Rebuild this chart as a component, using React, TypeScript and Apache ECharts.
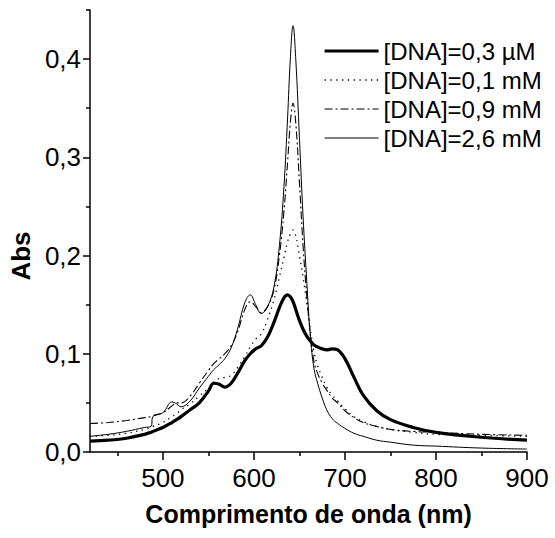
import React, { useEffect, useRef } from "react";
import * as echarts from "echarts";

const wavelengths = [420, 440, 460, 480, 487, 489, 500, 510, 515, 520, 530, 540, 550, 556, 562, 568, 575, 582, 590, 596, 602, 608, 615, 622, 628, 633, 637, 640, 643, 646, 650, 654, 658, 662, 666, 670, 675, 680, 686, 692, 700, 710, 720, 735, 750, 775, 800, 850, 900];

const dna03uM = [0.011, 0.012, 0.014, 0.018, 0.020, 0.021, 0.025, 0.030, 0.033, 0.036, 0.043, 0.050, 0.062, 0.070, 0.069, 0.066, 0.070, 0.080, 0.093, 0.100, 0.105, 0.108, 0.117, 0.132, 0.147, 0.157, 0.160, 0.158, 0.153, 0.145, 0.134, 0.125, 0.118, 0.113, 0.109, 0.107, 0.105, 0.104, 0.105, 0.104, 0.095, 0.076, 0.058, 0.042, 0.033, 0.025, 0.020, 0.015, 0.012];

const dna01mM = [0.016, 0.017, 0.019, 0.023, 0.025, 0.026, 0.030, 0.036, 0.039, 0.043, 0.049, 0.057, 0.065, 0.071, 0.075, 0.076, 0.078, 0.086, 0.097, 0.107, 0.115, 0.120, 0.135, 0.155, 0.178, 0.198, 0.214, 0.222, 0.226, 0.220, 0.200, 0.178, 0.152, 0.125, 0.102, 0.088, 0.076, 0.066, 0.058, 0.052, 0.044, 0.036, 0.031, 0.026, 0.023, 0.020, 0.018, 0.017, 0.016];

const dna09mM = [0.029, 0.030, 0.032, 0.035, 0.036, 0.037, 0.040, 0.047, 0.050, 0.050, 0.057, 0.070, 0.083, 0.090, 0.095, 0.100, 0.108, 0.122, 0.145, 0.153, 0.148, 0.142, 0.148, 0.165, 0.200, 0.245, 0.295, 0.335, 0.355, 0.335, 0.275, 0.210, 0.160, 0.120, 0.092, 0.080, 0.070, 0.063, 0.055, 0.050, 0.042, 0.035, 0.030, 0.026, 0.023, 0.021, 0.020, 0.018, 0.017];

const dna26mM = [0.016, 0.018, 0.021, 0.025, 0.026, 0.036, 0.040, 0.051, 0.049, 0.046, 0.052, 0.065, 0.077, 0.084, 0.089, 0.095, 0.106, 0.125, 0.152, 0.160, 0.150, 0.141, 0.148, 0.168, 0.210, 0.270, 0.340, 0.400, 0.434, 0.400, 0.320, 0.240, 0.175, 0.118, 0.085, 0.070, 0.055, 0.043, 0.034, 0.029, 0.024, 0.019, 0.016, 0.012, 0.010, 0.007, 0.006, 0.004, 0.003];

const seriesNames = ["[DNA]=0,3 \u00b5M", "[DNA]=0,1 mM", "[DNA]=0,9 mM", "[DNA]=2,6 mM"];

const xMajorTicks = [500, 600, 700, 800, 900];
const xMinorTicks = [450, 550, 650, 750, 850];
const yMajorTicks = [0, 0.1, 0.2, 0.3, 0.4];
const yMinorTicks = [0.05, 0.15, 0.25, 0.35, 0.45];

const xTitle = "Comprimento de onda (nm)";
const yTitle = "Abs";

const FONT = "'Liberation Sans Narrow', 'Liberation Sans', Arial, sans-serif";

function pairs(ys: number[]) {
  return wavelengths.map((x, i) => [x, ys[i]]);
}

export default function App() {
  const ref = useRef<HTMLDivElement>(null);
  useEffect(() => {
    if (!ref.current) return;
    const chart = echarts.init(ref.current, undefined, { renderer: "svg" });
    const axisLine = { show: true, lineStyle: { color: "#000", width: 1.5 } };
    const baseX = { type: "value", min: 420, max: 900, splitLine: { show: false }, position: "bottom" };
    const baseY = { type: "value", min: 0, max: 0.45, splitLine: { show: false }, position: "left" };
    chart.setOption({
      animation: false,
      backgroundColor: "#fff",
      grid: { left: 89, right: 28, top: 10, bottom: 86 },
      legend: {
        orient: "vertical",
        left: 323,
        top: 39,
        padding: 0,
        itemWidth: 54,
        itemHeight: 14,
        itemGap: 5,
        data: seriesNames,
        itemStyle: { opacity: 0 },
        lineStyle: { width: "inherit" },
        textStyle: { fontFamily: FONT, fontSize: 24, color: "#000" },
      },
      xAxis: [
        {
          ...baseX,
          axisLine,
          axisTick: { show: true, inside: false, length: 4, customValues: xMinorTicks, lineStyle: { color: "#000", width: 1.5 } },
          axisLabel: { show: true, customValues: xMajorTicks, margin: 13, fontFamily: FONT, fontSize: 26, color: "#000" },
          name: xTitle,
          nameLocation: "middle",
          nameGap: 49,
          nameTextStyle: { fontFamily: FONT, fontSize: 25, fontWeight: "bold", color: "#000" },
        },
        {
          ...baseX,
          axisLine: { show: false },
          axisTick: { show: true, inside: false, length: 8, customValues: xMajorTicks, lineStyle: { color: "#000", width: 1.5 } },
          axisLabel: { show: false },
        },
      ],
      yAxis: [
        {
          ...baseY,
          axisLine,
          axisTick: { show: true, inside: false, length: 4, customValues: yMinorTicks, lineStyle: { color: "#000", width: 1.5 } },
          axisLabel: {
            show: true,
            customValues: yMajorTicks,
            margin: 9,
            fontFamily: FONT,
            fontSize: 26,
            color: "#000",
            formatter: (v: number) => v.toFixed(1).replace(".", ","),
          },
          name: yTitle,
          nameLocation: "middle",
          nameGap: 41,
          nameTextStyle: { fontFamily: FONT, fontSize: 26, fontWeight: "bold", color: "#000", padding: [0, 50, 0, 0] },
        },
        {
          ...baseY,
          axisLine: { show: false },
          axisTick: { show: true, inside: false, length: 7, customValues: yMajorTicks, lineStyle: { color: "#000", width: 1.5 } },
          axisLabel: { show: false },
        },
      ],
      series: [
        {
          name: seriesNames[0],
          type: "line",
          data: pairs(dna03uM),
          symbol: "none",
          smooth: 0.4,
          lineStyle: { color: "#000", width: 3.2, type: "solid" },
          itemStyle: { color: "#000" },
        },
        {
          name: seriesNames[1],
          type: "line",
          data: pairs(dna01mM),
          symbol: "none",
          smooth: 0.4,
          lineStyle: { color: "#000", width: 1.3, type: [1.3, 4.5] },
          itemStyle: { color: "#000" },
        },
        {
          name: seriesNames[2],
          type: "line",
          data: pairs(dna09mM),
          symbol: "none",
          smooth: 0.4,
          lineStyle: { color: "#000", width: 1.1, type: [8, 3, 2, 3] },
          itemStyle: { color: "#000" },
        },
        {
          name: seriesNames[3],
          type: "line",
          data: pairs(dna26mM),
          symbol: "none",
          smooth: 0.4,
          lineStyle: { color: "#000", width: 1, type: "solid" },
          itemStyle: { color: "#000" },
        },
      ],
    });
    return () => chart.dispose();
  }, []);
  return <div ref={ref} style={{ width: 555, height: 538, position: "absolute", left: 0, top: 0 }} />;
}
